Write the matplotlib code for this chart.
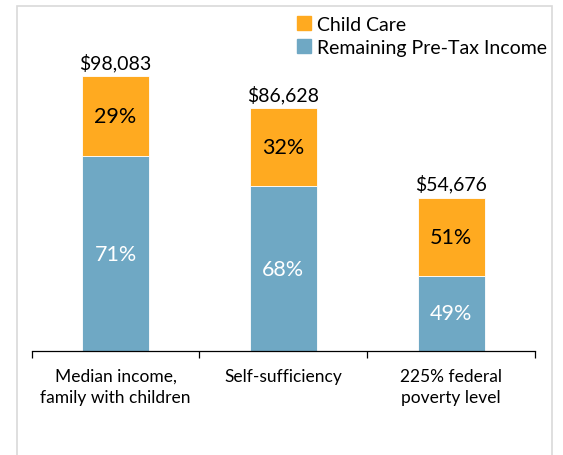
import matplotlib
matplotlib.use("Agg")
import matplotlib.pyplot as plt
from matplotlib.patches import Rectangle, Patch

plt.rcParams['font.family'] = ['Lato', 'DejaVu Sans']

categories = ["Median income,\nfamily with children", "Self-sufficiency", "225% federal\npoverty level"]
totals = [98083, 86628, 54676]
child_care_pct = [29, 32, 51]
remaining_pct = [71, 68, 49]

orange = "#FFAA20"
blue = "#6FA8C4"

fig = plt.figure(figsize=(5.63, 4.56), dpi=100)
# light frame around the chart area
fig.patches.append(Rectangle((17 / 563, -0.05), (552 - 17) / 563, 1 - 7 / 456 + 0.05,
                             transform=fig.transFigure, fill=False,
                             edgecolor="#D9D9D9", linewidth=1.2))

ax = fig.add_axes([31.7 / 563, 104 / 456, (535 - 31.7) / 563, 308 / 456])

x = list(range(len(categories)))
remaining_vals = [t * p / 100 for t, p in zip(totals, remaining_pct)]
care_vals = [t - r for t, r in zip(totals, remaining_vals)]

width = 0.4
ax.bar(x, remaining_vals, width, color=blue, edgecolor="white", linewidth=0.6)
ax.bar(x, care_vals, width, bottom=remaining_vals, color=orange, edgecolor="white", linewidth=0.6)

for xi, r, c, t, rp, cp in zip(x, remaining_vals, care_vals, totals, remaining_pct, child_care_pct):
    ax.text(xi, r / 2, f"{rp}%", ha="center", va="center", color="white", fontsize=15.5)
    ax.text(xi, r + c / 2, f"{cp}%", ha="center", va="center", color="black", fontsize=15.5)
    ax.text(xi, t + 1800, f"${t:,}", ha="center", va="bottom", color="black", fontsize=14)

ax.set_xlim(-0.5, len(categories) - 0.5)
ax.set_ylim(0, 110000)
ax.set_yticks([])
for s in ["top", "right", "left"]:
    ax.spines[s].set_visible(False)
ax.spines["bottom"].set_linewidth(0.9)

# category boundaries as tick marks; labels centered under bars
ax.set_xticks([-0.5, 0.5, 1.5, 2.5])
ax.set_xticklabels([])
ax.tick_params(axis="x", direction="out", length=5, width=0.9)
for xi, cat in zip(x, categories):
    ax.text(xi, -0.055, cat, transform=ax.get_xaxis_transform(), ha="center", va="top",
            fontsize=12.5, linespacing=1.4)

handles = [Patch(color=orange, label="Child Care"),
           Patch(color=blue, label="Remaining Pre-Tax Income")]
fig.legend(handles=handles, loc="upper left", bbox_to_anchor=(297 / 563, 1 - 17 / 456),
           frameon=False, fontsize=14, handlelength=0.7, handleheight=0.7,
           handletextpad=0.35, labelspacing=0.3, borderaxespad=0, borderpad=0)

fig.savefig("out.png", dpi=100)
